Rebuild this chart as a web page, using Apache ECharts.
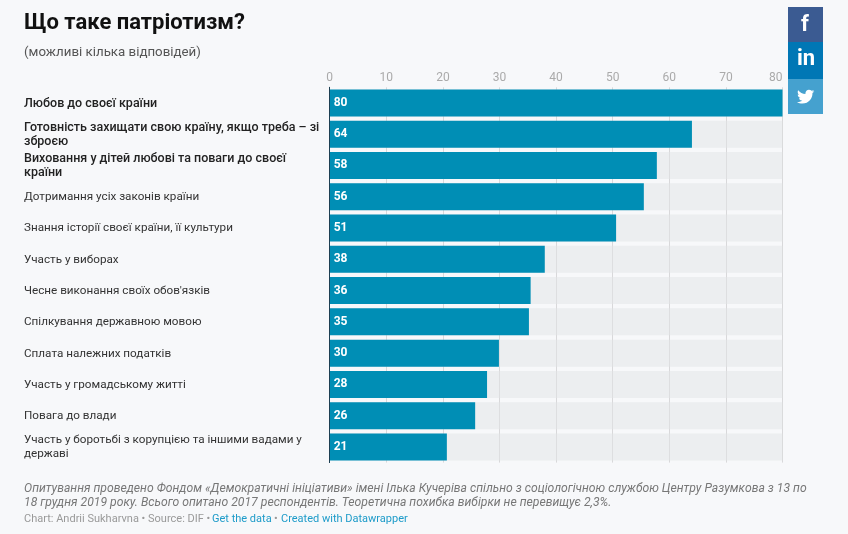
<!DOCTYPE html>
<html><head><meta charset="utf-8">
<script src="https://cdn.jsdelivr.net/npm/echarts@6/dist/echarts.min.js"></script>
<style>html,body{margin:0;padding:0;background:#f7f8fa}#c{width:848px;height:534px}</style>
</head><body><div id="c"></div>
<script>
const categories = [
  'Любов до своєї країни',
  'Готовність захищати свою країну, якщо треба – зі\nзброєю',
  'Виховання у дітей любові та поваги до своєї\nкраїни',
  'Дотримання усіх законів країни',
  'Знання історії своєї країни, її культури',
  'Участь у виборах',
  "Чесне виконання своїх обов'язків",
  'Спілкування державною мовою',
  'Сплата належних податків',
  'Участь у громадському житті',
  'Повага до влади',
  'Участь у боротьбі з корупцією та іншими вадами у\nдержаві'
];
const values = [80, 64, 57.8, 55.5, 50.6, 38, 35.5, 35.2, 29.9, 27.8, 25.7, 20.7];
const printedValues = [80, 64, 58, 56, 51, 38, 36, 35, 30, 28, 26, 21];
const boldCount = 3;
const axisMax = 80;
const axisStep = 10;
const F = 'Roboto, sans-serif';
const chart = echarts.init(document.getElementById('c'), null, {renderer:'canvas'});
const bird = 'M24 4.6c-.9.4-1.8.7-2.8.8 1-.6 1.8-1.6 2.2-2.7-1 .6-2 1-3.1 1.2C19.3 2.9 18 2.3 16.6 2.3c-2.7 0-4.9 2.2-4.9 4.9 0 .4 0 .8.1 1.1C7.7 8.1 4.1 6.1 1.7 3.1 1.2 3.9 1 4.7 1 5.6c0 1.7.9 3.2 2.2 4.1-.8 0-1.6-.2-2.2-.6v.1c0 2.4 1.7 4.4 3.9 4.8-.4.1-.8.2-1.3.2-.3 0-.6 0-.9-.1.6 2 2.4 3.4 4.6 3.4-1.7 1.3-3.8 2.1-6.1 2.1-.4 0-.8 0-1.2-.1 2.2 1.4 4.8 2.2 7.5 2.2 9.1 0 14-7.5 14-14v-.6c1-.7 1.8-1.6 2.5-2.5z';
echarts.graphic.registerShape('bird', echarts.graphic.extendPath(bird, {}));
chart.setOption({
  animation:false,
  backgroundColor:'#f7f8fa',
  grid:{left:329.7,top:87.3,width:452.8,height:375.3,containLabel:false},
  xAxis:{type:'value',position:'top',min:0,max:axisMax,interval:axisStep,
    axisLine:{show:false},axisTick:{show:false},
    axisLabel:{color:'#aaaaaa',fontFamily:F,fontSize:12,margin:3,alignMaxLabel:'right'},
    splitLine:{show:true,lineStyle:{color:'#d8d8da',width:1}}},
  yAxis:{type:'category',inverse:true,data:categories,z:5,
    axisLine:{show:true,onZero:false,lineStyle:{color:'#1d3f52',width:1}},axisTick:{show:false},
    axisLabel:{align:'left',margin:305.7,interval:0,fontFamily:F,fontSize:12,color:'#333333',lineHeight:14,padding:[1,0,0,0],
      formatter:(v,i)=>v.split('\n').map(s=>i<boldCount?'{b|'+s+'}':'{n|'+s+'}').join('\n'),
      rich:{b:{fontFamily:F,fontSize:12.5,fontWeight:500,color:'#222222',lineHeight:14},
            n:{fontFamily:F,fontSize:11.7,color:'#333333',lineHeight:14}}}},
  series:[{type:'bar',data:values,barWidth:27,
    showBackground:true,backgroundStyle:{color:'rgba(226,227,229,0.5)'},
    itemStyle:{color:'#008eb5'},
    label:{show:true,position:'insideLeft',distance:4,color:'#ffffff',fontFamily:F,fontSize:12,fontWeight:'bold',
      formatter:p=>String(printedValues[p.dataIndex])}}],
  graphic:[
    {type:'text',left:24,top:12,style:{text:'Що таке патріотизм?',font:'bold 22px '+F,fill:'#111111'}},
    {type:'text',left:24,top:46,style:{text:'(можливі кілька відповідей)',font:'13.3px '+F,fill:'#555555'}},
    {type:'text',left:24,top:482,style:{text:'Опитування проведено Фондом «Демократичні ініціативи» імені Ілька Кучеріва спільно з соціологічною службою Центру Разумкова з 13 по\n18 грудня 2019 року. Всього опитано 2017 респондентів. Теоретична похибка вибірки не перевищує 2,3%.',font:'italic 12.2px '+F,fill:'#777777',lineHeight:14}},
    {type:'text',left:24,top:514,style:{text:'Chart: Andrii Sukharvna • Source: DIF •',font:'11px '+F,fill:'#999999'}},
    {type:'text',left:212,top:514,style:{text:'Get the data',font:'11px '+F,fill:'#1d9bc9'}},
    {type:'text',left:274,top:514,style:{text:'•',font:'11px '+F,fill:'#999999'}},
    {type:'text',left:281,top:514,style:{text:'Created with Datawrapper',font:'11px '+F,fill:'#1d9bc9'}},
    {type:'rect',x:788,y:7,shape:{width:35,height:35},style:{fill:'#3b5b92'}},
    {type:'rect',x:788,y:42,shape:{width:35,height:37},style:{fill:'#0077b5'}},
    {type:'rect',x:788,y:79,shape:{width:35,height:35},style:{fill:'#45a1cf'}},
    {type:'text',x:801,y:14,style:{text:'f',font:'bold 22px '+F,fill:'#ffffff'}},
    {type:'text',x:797,y:48,style:{text:'in',font:'bold 22px '+F,fill:'#ffffff'}},
    {type:'bird',x:797,y:88,scaleX:0.72,scaleY:0.72,style:{fill:'#ffffff'}}
  ]
});
</script></body></html>
